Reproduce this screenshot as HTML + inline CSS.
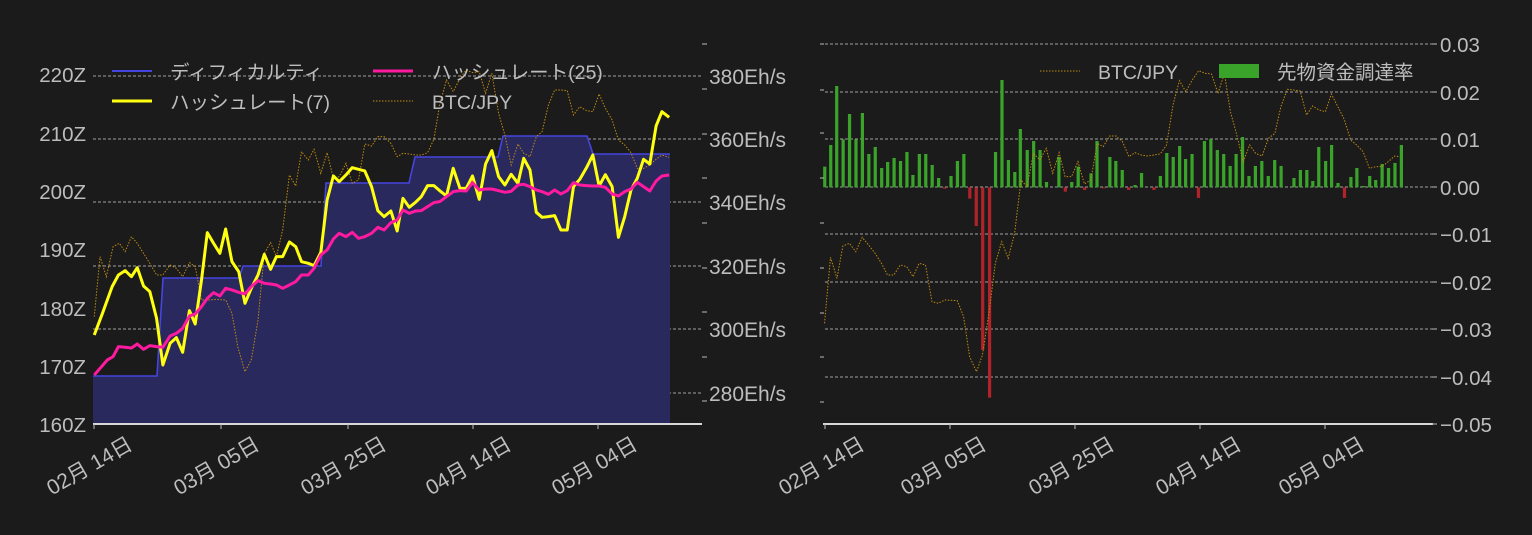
<!DOCTYPE html>
<html><head><meta charset="utf-8"><style>
html,body{margin:0;padding:0;background:#1b1b1b;}
svg{display:block;}
text{font-family:"Liberation Sans","Noto Sans CJK JP",sans-serif;fill:#bdbdbd;}
</style></head><body>
<svg width="1532" height="535" viewBox="0 0 1532 535" xmlns="http://www.w3.org/2000/svg">
<rect width="1532" height="535" fill="#1b1b1b"/>
<!-- LEFT CHART -->
<g stroke="#cfcfcf" stroke-width="0.8" stroke-dasharray="3,2">
<line x1="93" y1="76" x2="702" y2="76"/><line x1="93" y1="139" x2="702" y2="139"/>
<line x1="93" y1="202" x2="702" y2="202"/><line x1="93" y1="266" x2="702" y2="266"/>
<line x1="93" y1="329" x2="702" y2="329"/><line x1="93" y1="393" x2="702" y2="393"/>
</g>
<path d="M93,424 L93,376 L157,376 L163,278 L239,278 L243,266 L321,266 L326,183 L409,183 L415,157 L498,157 L503,136 L587,136 L593,154 L670,154 L670,424 Z" fill="#29295e" stroke="none"/>
<path d="M93,376 L157,376 L163,278 L239,278 L243,266 L321,266 L326,183 L409,183 L415,157 L498,157 L503,136 L587,136 L593,154 L670,154" fill="none" stroke="#4545e0" stroke-width="1.6"/>
<g transform="translate(30,40) scale(0.4831,0.3333)">
<polyline fill="none" stroke="#c08a10" stroke-width="1" vector-effect="non-scaling-stroke" stroke-dasharray="1.5,1.5" points="133,830 145,650 158,710 172,620 185,610 197,635 210,590 222,610 235,640 248,670 262,705 275,705 290,675 303,685 316,710 330,668 342,680 355,780 370,780 385,778 405,780 418,820 430,920 445,995 458,960 472,840 485,640 498,608 510,650 523,570 537,405 550,438 562,335 576,360 588,328 602,400 615,338 628,415 640,410 654,370 667,430 680,420 693,312 707,318 720,290 733,290 747,310 760,350 772,340 785,342 798,345 810,345 823,338 836,298 848,195 862,120 876,155 890,115 903,90 916,98 930,95 943,160 956,100 970,220 983,285 996,375 1010,312 1022,340 1035,350 1048,290 1060,275 1073,195 1086,150 1099,150 1112,152 1125,225 1138,200 1152,212 1165,215 1178,162 1191,205 1205,240 1218,300 1231,315 1244,338 1257,385 1270,385 1283,375 1296,358 1308,345 1323,352"/>
<polyline fill="none" stroke="#ffff10" stroke-width="3" vector-effect="non-scaling-stroke" stroke-linejoin="round" points="133,885 150,820 170,740 183,705 197,692 210,710 222,683 235,738 248,755 262,835 275,975 290,910 303,893 316,937 330,812 342,852 355,720 367,578 380,610 393,640 405,567 418,665 432,695 445,790 458,745 472,705 485,643 498,688 510,650 523,650 537,606 550,620 562,665 576,670 588,677 602,637 615,480 628,408 640,425 654,405 667,383 680,388 693,393 707,440 720,512 733,530 747,513 760,573 772,475 785,502 798,487 810,470 823,437 836,437 848,452 862,468 876,385 890,445 903,445 916,408 930,478 943,372 956,332 970,410 983,435 996,403 1010,430 1022,355 1035,390 1048,517 1060,532 1073,530 1086,527 1099,570 1112,570 1125,440 1138,418 1152,383 1165,345 1178,438 1191,404 1205,440 1218,592 1231,530 1244,450 1257,415 1270,358 1283,372 1296,258 1308,215 1323,232"/>
<polyline fill="none" stroke="#ff1aa0" stroke-width="3" vector-effect="non-scaling-stroke" stroke-linejoin="round" points="133,1005 145,985 160,960 172,950 183,920 197,922 210,924 222,912 235,928 248,917 262,920 275,922 290,888 303,880 316,865 330,828 342,822 355,800 367,775 380,758 393,768 405,745 418,750 432,757 445,762 458,740 472,722 485,730 498,732 510,735 523,745 537,735 550,725 562,705 576,705 588,685 602,645 615,630 628,597 640,580 654,590 667,577 680,595 693,590 707,580 720,562 733,570 747,548 760,540 772,510 785,520 798,513 810,512 823,500 836,488 848,485 862,470 876,455 890,452 903,453 916,428 930,450 943,447 956,447 970,452 983,457 996,454 1010,435 1022,433 1035,440 1048,450 1060,455 1073,463 1086,450 1099,462 1112,452 1125,428 1138,435 1152,437 1165,438 1178,438 1191,442 1205,462 1218,468 1231,455 1244,447 1257,427 1270,440 1283,453 1296,423 1308,408 1323,405"/>
</g>
<line x1="93" y1="424" x2="702" y2="424" stroke="#d8d8d8" stroke-width="2"/>
<g stroke="#bbb" stroke-width="1">
<line x1="94" y1="424" x2="94" y2="429"/><line x1="221" y1="424" x2="221" y2="429"/><line x1="348" y1="424" x2="348" y2="429"/><line x1="473" y1="424" x2="473" y2="429"/><line x1="598" y1="424" x2="598" y2="429"/>
<line x1="702" y1="44" x2="707" y2="44"/><line x1="702" y1="89" x2="707" y2="89"/><line x1="702" y1="134" x2="707" y2="134"/><line x1="702" y1="178" x2="707" y2="178"/><line x1="702" y1="223" x2="707" y2="223"/><line x1="702" y1="268" x2="707" y2="268"/><line x1="702" y1="312" x2="707" y2="312"/><line x1="702" y1="357" x2="707" y2="357"/><line x1="702" y1="401" x2="707" y2="401"/>
</g>
<g font-size="20.5" text-anchor="end">
<text x="86" y="82">220Z</text><text x="86" y="141">210Z</text><text x="86" y="199">200Z</text><text x="86" y="257">190Z</text><text x="86" y="316">180Z</text><text x="86" y="374">170Z</text><text x="86" y="432">160Z</text>
</g>
<g font-size="21">
<text x="709" y="84">380Eh/s</text><text x="709" y="147">360Eh/s</text><text x="709" y="210">340Eh/s</text><text x="709" y="274">320Eh/s</text><text x="709" y="337">300Eh/s</text><text x="709" y="401">280Eh/s</text>
</g>
<g font-size="21" text-anchor="middle">
<text transform="translate(93,472) rotate(-30)">02月 14日</text>
<text transform="translate(220,472) rotate(-30)">03月 05日</text>
<text transform="translate(347,472) rotate(-30)">03月 25日</text>
<text transform="translate(472,472) rotate(-30)">04月 14日</text>
<text transform="translate(598,472) rotate(-30)">05月 04日</text>
</g>
<line x1="112" y1="71" x2="152" y2="71" stroke="#4545e0" stroke-width="2"/>
<text x="170" y="79" font-size="19.5">ディフィカルティ</text>
<line x1="373" y1="71" x2="413" y2="71" stroke="#ff1aa0" stroke-width="3"/>
<text x="432" y="79" font-size="19.5">ハッシュレート(25)</text>
<line x1="112" y1="101" x2="152" y2="101" stroke="#ffff10" stroke-width="3"/>
<text x="170" y="109" font-size="19.5">ハッシュレート(7)</text>
<line x1="373" y1="101" x2="413" y2="101" stroke="#c08a10" stroke-width="1" stroke-dasharray="1.5,1.5"/>
<text x="432" y="109" font-size="19.5">BTC/JPY</text>

<!-- RIGHT CHART -->
<g stroke="#cfcfcf" stroke-width="0.8" stroke-dasharray="3,2">
<line x1="825" y1="44" x2="1432" y2="44"/><line x1="825" y1="92" x2="1432" y2="92"/><line x1="825" y1="139" x2="1432" y2="139"/><line x1="825" y1="187" x2="1432" y2="187"/><line x1="825" y1="234" x2="1432" y2="234"/><line x1="825" y1="282" x2="1432" y2="282"/><line x1="825" y1="329" x2="1432" y2="329"/><line x1="825" y1="377" x2="1432" y2="377"/>
</g>
<g transform="translate(780,30) scale(0.4591,0.3333)">
<g fill="#3aa32a">
<rect x="94" y="410" width="7" height="62"/><rect x="107" y="345" width="7" height="127"/><rect x="120" y="168" width="7" height="304"/><rect x="134" y="328" width="7" height="144"/><rect x="148" y="252" width="7" height="220"/><rect x="162" y="328" width="7" height="144"/><rect x="176" y="249" width="7" height="223"/><rect x="190" y="372" width="7" height="100"/><rect x="204" y="351" width="7" height="121"/><rect x="218" y="414" width="7" height="58"/><rect x="231" y="396" width="7" height="76"/><rect x="245" y="384" width="7" height="88"/><rect x="259" y="393" width="7" height="79"/><rect x="273" y="366" width="7" height="106"/><rect x="286" y="435" width="7" height="37"/><rect x="300" y="372" width="7" height="100"/><rect x="314" y="372" width="7" height="100"/><rect x="328" y="405" width="7" height="67"/><rect x="342" y="444" width="7" height="28"/><rect x="369" y="438" width="7" height="34"/><rect x="383" y="393" width="7" height="79"/><rect x="397" y="372" width="7" height="100"/><rect x="466" y="366" width="7" height="106"/><rect x="480" y="150" width="7" height="322"/><rect x="494" y="390" width="7" height="82"/><rect x="508" y="426" width="7" height="46"/><rect x="520" y="297" width="7" height="175"/><rect x="535" y="360" width="7" height="112"/><rect x="549" y="333" width="7" height="139"/><rect x="563" y="360" width="7" height="112"/><rect x="577" y="456" width="7" height="16"/><rect x="604" y="381" width="7" height="91"/><rect x="632" y="456" width="7" height="16"/><rect x="646" y="410" width="7" height="62"/><rect x="674" y="430" width="7" height="42"/><rect x="687" y="333" width="7" height="139"/><rect x="715" y="381" width="7" height="91"/><rect x="728" y="393" width="7" height="79"/><rect x="742" y="420" width="7" height="52"/><rect x="770" y="465" width="7" height="7"/><rect x="784" y="429" width="7" height="43"/><rect x="825" y="438" width="7" height="34"/><rect x="839" y="369" width="7" height="103"/><rect x="853" y="381" width="7" height="91"/><rect x="867" y="348" width="7" height="124"/><rect x="880" y="387" width="7" height="85"/><rect x="894" y="372" width="7" height="100"/><rect x="921" y="333" width="7" height="139"/><rect x="935" y="327" width="7" height="145"/><rect x="949" y="360" width="7" height="112"/><rect x="963" y="372" width="7" height="100"/><rect x="977" y="408" width="7" height="64"/><rect x="990" y="372" width="7" height="100"/><rect x="1004" y="321" width="7" height="151"/><rect x="1018" y="438" width="7" height="34"/><rect x="1032" y="408" width="7" height="64"/><rect x="1046" y="393" width="7" height="79"/><rect x="1060" y="438" width="7" height="34"/><rect x="1074" y="390" width="7" height="82"/><rect x="1088" y="408" width="7" height="64"/><rect x="1116" y="444" width="7" height="28"/><rect x="1130" y="420" width="7" height="52"/><rect x="1144" y="420" width="7" height="52"/><rect x="1157" y="453" width="7" height="19"/><rect x="1170" y="351" width="7" height="121"/><rect x="1185" y="393" width="7" height="79"/><rect x="1198" y="345" width="7" height="127"/><rect x="1212" y="459" width="7" height="13"/><rect x="1240" y="441" width="7" height="31"/><rect x="1253" y="414" width="7" height="58"/><rect x="1267" y="468" width="7" height="4"/><rect x="1281" y="438" width="7" height="34"/><rect x="1294" y="450" width="7" height="22"/><rect x="1308" y="402" width="7" height="70"/><rect x="1322" y="414" width="7" height="58"/><rect x="1336" y="399" width="7" height="73"/><rect x="1350" y="345" width="7" height="127"/>
</g>
<g fill="#b0232a">
<rect x="355" y="472" width="7" height="4"/><rect x="410" y="472" width="7" height="34"/><rect x="424" y="472" width="7" height="116"/><rect x="438" y="472" width="7" height="488"/><rect x="453" y="472" width="7" height="631"/><rect x="618" y="472" width="7" height="13"/><rect x="660" y="472" width="7" height="8"/><rect x="701" y="472" width="7" height="3"/><rect x="756" y="472" width="7" height="8"/><rect x="811" y="472" width="7" height="8"/><rect x="908" y="472" width="7" height="32"/><rect x="1226" y="472" width="7" height="32"/>
</g>
<polyline fill="none" stroke="#c08a10" stroke-width="1" vector-effect="non-scaling-stroke" stroke-dasharray="1.5,1.5" points="97,880 110,682 124,745 137,648 151,640 165,665 179,622 193,645 207,670 221,700 234,735 248,735 262,705 276,710 290,740 303,700 317,705 331,815 345,820 359,810 386,812 400,860 413,980 428,1025 441,975 455,850 469,700 483,635 497,685 511,610 525,450 538,470 552,370 566,390 580,355 594,430 608,368 621,440 635,440 649,395 663,462 677,450 691,340 704,350 718,318 732,318 746,335 760,380 773,368 787,375 800,378 814,375 828,372 842,345 856,225 870,152 884,185 898,150 912,122 926,130 940,132 954,190 968,130 981,245 995,315 1009,395 1023,345 1036,370 1050,378 1064,325 1078,310 1091,230 1105,178 1119,180 1133,183 1147,255 1160,228 1174,240 1188,245 1201,192 1215,230 1229,268 1243,330 1256,345 1270,365 1284,415 1298,410 1311,410 1325,395 1339,378 1349,380"/>
</g>
<line x1="823" y1="424" x2="1433" y2="424" stroke="#d8d8d8" stroke-width="2"/>
<g stroke="#bbb" stroke-width="1">
<line x1="825" y1="424" x2="825" y2="429"/><line x1="950" y1="424" x2="950" y2="429"/><line x1="1075" y1="424" x2="1075" y2="429"/><line x1="1200" y1="424" x2="1200" y2="429"/><line x1="1325" y1="424" x2="1325" y2="429"/>
<line x1="1432" y1="44" x2="1437" y2="44"/><line x1="1432" y1="92" x2="1437" y2="92"/><line x1="1432" y1="139" x2="1437" y2="139"/><line x1="1432" y1="187" x2="1437" y2="187"/><line x1="1432" y1="234" x2="1437" y2="234"/><line x1="1432" y1="282" x2="1437" y2="282"/><line x1="1432" y1="329" x2="1437" y2="329"/><line x1="1432" y1="377" x2="1437" y2="377"/><line x1="1432" y1="424" x2="1437" y2="424"/>
<line x1="820" y1="44" x2="824" y2="44"/><line x1="820" y1="90" x2="824" y2="90"/><line x1="820" y1="133" x2="824" y2="133"/><line x1="820" y1="178" x2="824" y2="178"/><line x1="820" y1="223" x2="824" y2="223"/><line x1="820" y1="268" x2="824" y2="268"/><line x1="820" y1="313" x2="824" y2="313"/><line x1="820" y1="357" x2="824" y2="357"/><line x1="820" y1="402" x2="824" y2="402"/>
</g>
<g font-size="20.5">
<text x="1440" y="52">0.03</text><text x="1440" y="100">0.02</text><text x="1440" y="147">0.01</text><text x="1440" y="195">0.00</text><text x="1440" y="242">−0.01</text><text x="1440" y="290">−0.02</text><text x="1440" y="337">−0.03</text><text x="1440" y="385">−0.04</text><text x="1440" y="432">−0.05</text>
</g>
<g font-size="21" text-anchor="middle">
<text transform="translate(825,472) rotate(-30)">02月 14日</text>
<text transform="translate(947,472) rotate(-30)">03月 05日</text>
<text transform="translate(1075,472) rotate(-30)">03月 25日</text>
<text transform="translate(1202,472) rotate(-30)">04月 14日</text>
<text transform="translate(1325,472) rotate(-30)">05月 04日</text>
</g>
<line x1="1040" y1="71" x2="1080" y2="71" stroke="#c08a10" stroke-width="1" stroke-dasharray="1.5,1.5"/>
<text x="1098" y="79" font-size="19.5">BTC/JPY</text>
<rect x="1219" y="64" width="40" height="14" fill="#3aa32a"/>
<text x="1277" y="79" font-size="19.5">先物資金調達率</text>
</svg>
</body></html>
